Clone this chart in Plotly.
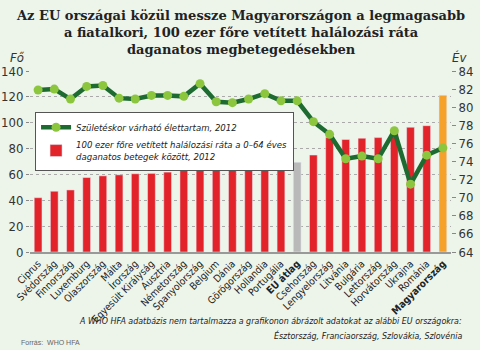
import plotly.graph_objects as go

countries = ["Ciprus", "Svédország", "Finnország", "Luxemburg", "Olaszország", "Málta",
             "Írország", "Egyesült Királyság", "Ausztria", "Németország", "Spanyolország",
             "Belgium", "Dánia", "Görögország", "Hollandia", "Portugália", "EU átlag",
             "Csehország", "Lengyelország", "Litvánia", "Bulgária", "Lettország",
             "Horvátország", "Ukrajna", "Románia", "Magyarország"]
mortality = [42, 47, 48, 57.6, 58.9, 59.7, 60.5, 60.8, 61.8, 63, 63.8, 64.9, 65.4, 66,
             67.6, 68.7, 69.5, 75, 88.5, 87, 88, 88.5, 93, 96.5, 97.7, 121.3]
life_exp = [81.9, 82.0, 80.9, 82.3, 82.4, 81.0, 80.9, 81.3, 81.3, 81.2, 82.6, 80.6, 80.5,
            80.9, 81.5, 80.7, 80.7, 78.4, 77.0, 74.3, 74.6, 74.3, 77.4, 71.5, 74.7, 75.5]
left_ticks = [0, 20, 40, 60, 80, 100, 120, 140]
right_ticks = list(range(64, 85, 2))

bold = {"EU átlag", "Magyarország"}
tick_text = [f"<b>{c}</b>" if c in bold else c for c in countries]
bar_colors = ["#b9b9b9" if c == "EU átlag" else "#f5a12a" if c == "Magyarország" else "#e3232a"
              for c in countries]

bg = "#edf4ea"
narrow = "Liberation Sans Narrow, DejaVu Sans Condensed, sans-serif"
tick_font = dict(family=narrow, size=13, color="#333")

fig = go.Figure()
fig.add_trace(go.Scatter(
    x=countries, y=life_exp, yaxis="y2", mode="lines+markers",
    name="Születéskor várható élettartam, 2012",
    line=dict(color="#1d6b30", width=4.5),
    marker=dict(color="#8cc63f", size=9, line=dict(width=0)),
))
fig.add_trace(go.Bar(
    x=countries, y=mortality, marker_color=bar_colors, width=0.48,
    name="100 ezer főre vetített halálozási ráta a 0–64 éves<br>daganatos betegek között, 2012",
))

fig.update_layout(
    width=480, height=350,
    margin=dict(l=30, r=29, t=71, b=98, autoexpand=False),
    paper_bgcolor=bg, plot_bgcolor=bg,
    showlegend=True,
    legend=dict(x=0.012, y=0.775, xanchor="left", yanchor="top",
                bgcolor="white", bordercolor="#555", borderwidth=1,
                font=dict(family=narrow, size=9.5, color="#222", style="italic"),
                tracegroupgap=0, itemwidth=30),
    xaxis=dict(tickmode="array", tickvals=countries, ticktext=tick_text, tickangle=-45,
               tickfont=dict(family=narrow, size=10, color="#222"),
               showline=True, linecolor="#999", linewidth=2, showgrid=False,
               range=[-0.5, 25.5], automargin=False),
    yaxis=dict(range=[0, 140], tickvals=left_ticks, tickfont=tick_font,
               showgrid=True, gridcolor="#aaa", griddash="dot", gridwidth=1,
               ticks="outside", ticklen=3, tickcolor="#888", zeroline=False, automargin=False),
    yaxis2=dict(range=[64, 84], tickvals=right_ticks, tickfont=tick_font, overlaying="y",
                side="right", showgrid=False, ticks="outside", ticklen=4, tickcolor="#888",
                zeroline=False, automargin=False),
    bargap=0.5,
)

fig.add_annotation(
    text="Az EU országai közül messze Magyarországon a legmagasabb<br>a fiatalkori, 100 ezer főre vetített halálozási ráta<br>daganatos megbetegedésekben",
    xref="paper", yref="paper", x=0.5, y=1.36, xanchor="center", yanchor="top",
    showarrow=False, font=dict(family="DejaVu Serif", size=13, color="#222", weight="bold"),
)
fig.add_annotation(text="Fő", xref="paper", yref="paper", x=-0.03, y=1.072,
                   xanchor="center", yanchor="middle", showarrow=False,
                   font=dict(family=narrow, size=13, color="#333", style="italic"))
fig.add_annotation(text="Év", xref="paper", yref="paper", x=1.02, y=1.075,
                   xanchor="center", yanchor="middle", showarrow=False,
                   font=dict(family=narrow, size=13, color="#333", style="italic"))
fig.add_annotation(
    text="A WHO HFA adatbázis nem tartalmazza a grafikonon ábrázolt adatokat az alábbi EU országokra:",
    xref="paper", yref="paper", x=1.03, y=-0.381, xanchor="right", yanchor="middle",
    showarrow=False, font=dict(family=narrow, size=8.8, color="#222", style="italic"))
fig.add_annotation(
    text="Észtország, Franciaország, Szlovákia, Szlovénia",
    xref="paper", yref="paper", x=1.03, y=-0.459, xanchor="right", yanchor="middle",
    showarrow=False, font=dict(family=narrow, size=8.8, color="#222", style="italic"))
fig.add_annotation(text="Forrás:  WHO HFA", xref="paper", yref="paper", x=-0.025, y=-0.5,
                   xanchor="left", yanchor="middle", showarrow=False,
                   font=dict(family="Liberation Sans, sans-serif", size=7, color="#666"))

fig.write_html("out.html")
